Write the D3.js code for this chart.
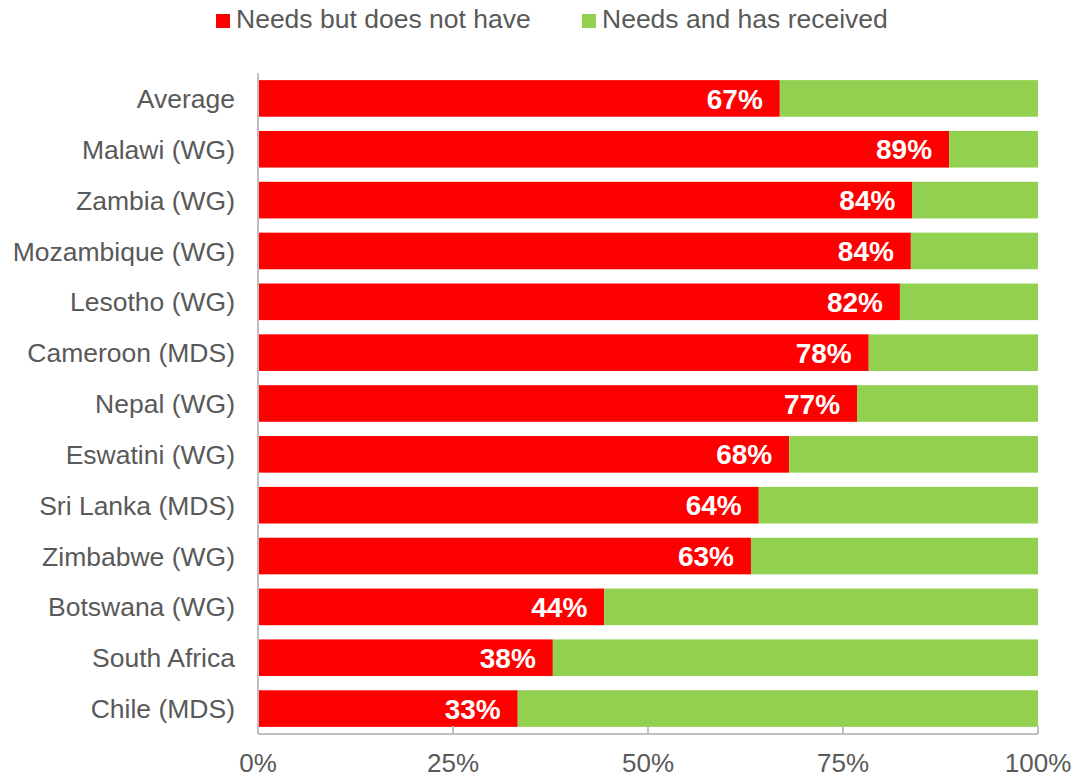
<!DOCTYPE html>
<html>
<head>
<meta charset="utf-8">
<script src="https://cdn.jsdelivr.net/npm/d3@7"></script>
<style>
  body { margin: 0; background: #fff; }
  text { font-family: "Liberation Sans", Arial, sans-serif; }
</style>
</head>
<body>
<svg id="chart" width="1075" height="778"></svg>
<script>
const categories = ["Average", "Malawi (WG)", "Zambia (WG)", "Mozambique (WG)", "Lesotho (WG)",
  "Cameroon (MDS)", "Nepal (WG)", "Eswatini (WG)", "Sri Lanka (MDS)", "Zimbabwe (WG)",
  "Botswana (WG)", "South Africa", "Chile (MDS)"];
const needsNotHave = [66.9, 88.6, 83.9, 83.7, 82.3, 78.3, 76.8, 68.1, 64.2, 63.2, 44.4, 37.8, 33.3];
const seriesNames = ["Needs but does not have", "Needs and has received"];
const tickValues = [0, 25, 50, 75, 100];

const colors = ["#FF0000", "#92D050"];
const margin = { left: 258, right: 37, top: 73, bottom: 44 };
const width = 1075, height = 778;

const svg = d3.select("#chart");

const x = d3.scaleLinear().domain([0, 100]).range([margin.left, width - margin.right]);
const y = d3.scaleBand().domain(categories).range([margin.top, height - margin.bottom]).paddingInner(0.28).paddingOuter(0.14);

const rows = categories.map((c, i) => ({ name: c, a: needsNotHave[i], b: 100 - needsNotHave[i] }));

// stacked bars
const g = svg.append("g");
g.selectAll("rect.red").data(rows).enter().append("rect")
  .attr("x", x(0)).attr("y", d => y(d.name))
  .attr("width", d => x(d.a) - x(0)).attr("height", y.bandwidth())
  .attr("fill", colors[0]);
g.selectAll("rect.green").data(rows).enter().append("rect")
  .attr("x", d => x(d.a)).attr("y", d => y(d.name))
  .attr("width", d => x(100) - x(d.a)).attr("height", y.bandwidth())
  .attr("fill", colors[1]);

// value labels
g.selectAll("text.val").data(rows).enter().append("text")
  .attr("x", d => x(d.a) - 17)
  .attr("y", d => y(d.name) + y.bandwidth() / 2)
  .attr("dy", "0.36em")
  .attr("text-anchor", "end")
  .attr("fill", "#fff").attr("font-weight", "bold").attr("font-size", 28)
  .text(d => Math.round(d.a) + "%");

// axes
const axisColor = "#BFBFBF";
const yBottom = height - margin.bottom;
svg.append("line").attr("x1", x(0)).attr("x2", x(0)).attr("y1", margin.top).attr("y2", yBottom)
  .attr("stroke", axisColor).attr("stroke-width", 2);
svg.append("line").attr("x1", x(0)).attr("x2", x(100)).attr("y1", yBottom).attr("y2", yBottom)
  .attr("stroke", axisColor).attr("stroke-width", 2);
svg.selectAll("line.tick").data(tickValues).enter().append("line")
  .attr("x1", d => x(d)).attr("x2", d => x(d)).attr("y1", yBottom).attr("y2", yBottom - 8)
  .attr("stroke", axisColor).attr("stroke-width", 2);
svg.selectAll("text.tick").data(tickValues).enter().append("text")
  .attr("x", d => x(d)).attr("y", 772)
  .attr("text-anchor", "middle").attr("fill", "#595959").attr("font-size", 26)
  .text(d => d + "%");

// category labels
svg.selectAll("text.cat").data(categories).enter().append("text")
  .attr("x", 235).attr("y", d => y(d) + y.bandwidth() / 2)
  .attr("dy", "0.36em").attr("text-anchor", "end")
  .attr("fill", "#595959").attr("font-size", 26.5)
  .text(d => d);

// legend
const legendX = [216, 582];
const lg = svg.selectAll("g.leg").data(seriesNames).enter().append("g")
  .attr("transform", (d, i) => `translate(${legendX[i]},0)`);
lg.append("rect").attr("x", 0).attr("y", 14).attr("width", 14).attr("height", 14)
  .attr("fill", (d, i) => colors[i]);
lg.append("text").attr("x", 20).attr("y", 28)
  .attr("fill", "#595959").attr("font-size", 26.5).text(d => d);
</script>
</body>
</html>
